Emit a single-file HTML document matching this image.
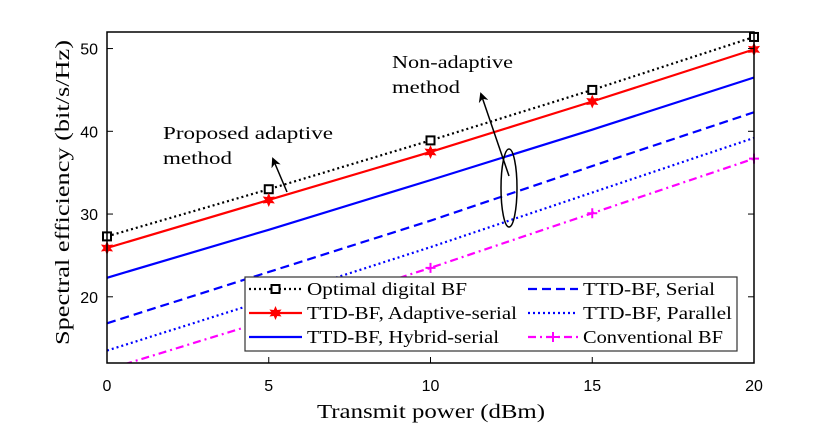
<!DOCTYPE html>
<html><head><meta charset="utf-8"><style>
html,body{margin:0;padding:0;background:#fff;}
svg{display:block;}
.t{font-family:"Liberation Sans",sans-serif;font-size:16px;fill:#000;}
.s{font-family:"Liberation Serif",serif;font-size:18px;fill:#000;}
</style></head><body>
<svg id="chart" width="830" height="429" viewBox="0 0 830 429" xmlns="http://www.w3.org/2000/svg">
<defs><clipPath id="pc"><rect x="107" y="32" width="647" height="331"/></clipPath>
<marker id="ah" markerWidth="10" markerHeight="10" refX="8" refY="5" orient="auto" markerUnits="userSpaceOnUse"><path d="M0,0 L10,5 L0,10 L3,5 Z" fill="#000"/></marker></defs>
<g id="grid"></g>
<g id="series" clip-path="url(#pc)"></g>
<g id="marks"></g>
<rect x="107" y="32" width="647" height="331" fill="none" stroke="#000" stroke-width="1.5"/>
<g id="axes"></g>
<text class="s" x="317" y="418" textLength="228" lengthAdjust="spacingAndGlyphs" style="font-size:20px">Transmit power (dBm)</text>
<text class="s" x="0" y="0" textLength="305" lengthAdjust="spacingAndGlyphs" style="font-size:20px" transform="translate(69 345) rotate(-90)">Spectral efficiency (bit/s/Hz)</text>
<g>
<text class="s" x="163" y="139" textLength="170" lengthAdjust="spacingAndGlyphs">Proposed adaptive</text>
<text class="s" x="163" y="164" textLength="69" lengthAdjust="spacingAndGlyphs">method</text>
<line x1="287" y1="192" x2="273" y2="159" stroke="#000" stroke-width="1.5" marker-end="url(#ah)"/>
</g>
<g>
<text class="s" x="392" y="68" textLength="121" lengthAdjust="spacingAndGlyphs">Non-adaptive</text>
<text class="s" x="392" y="93" textLength="68" lengthAdjust="spacingAndGlyphs">method</text>
<line x1="509" y1="176" x2="481" y2="94" stroke="#000" stroke-width="1.5" marker-end="url(#ah)"/>
<ellipse cx="509" cy="188" rx="8" ry="39" fill="none" stroke="#000" stroke-width="1.5"/>
</g>
<g id="legend"></g>
</svg>
<script>
const xValues=[0,5,10,15,20];
const optimal=[27.3,33.0,38.9,45.0,51.4];
const adaptive=[25.9,31.7,37.5,43.6,49.9];
const hybrid=[22.3,28.1,34.1,40.2,46.5];
const serial=[16.8,23.0,29.2,35.8,42.3];
const parallel=[13.5,19.7,26.0,32.6,39.2];
const conventional=[11.2,17.2,23.5,30.1,36.7];
const xTicks=[0,5,10,15,20];
const yTicks=[20,30,40,50];
const seriesNames=["Optimal digital BF","TTD-BF, Adaptive-serial","TTD-BF, Hybrid-serial","TTD-BF, Serial","TTD-BF, Parallel","Conventional BF"];

const NS="http://www.w3.org/2000/svg";
const X=v=>107+v*(647/20);
const Y=v=>363-(v-12)*(331/40);
function el(tag,attrs,parent){const e=document.createElementNS(NS,tag);for(const k in attrs)e.setAttribute(k,attrs[k]);parent.appendChild(e);return e;}
const axes=document.getElementById('axes');
xTicks.forEach(t=>{
  const l=el('line',{x1:X(t),x2:X(t),y1:363,y2:357,stroke:'#000','stroke-width':1},axes);
  
  
  const tx=el('text',{x:X(t),y:391,'text-anchor':'middle',class:'t'},axes);
  tx.textContent=t;
  
  
});
yTicks.forEach(t=>{
  const l=el('line',{x1:107,x2:113,y1:Y(t),y2:Y(t),stroke:'#000','stroke-width':1},axes);
  
  
  const l2=el('line',{x1:754,x2:748,y1:Y(t),y2:Y(t),stroke:'#000','stroke-width':1},axes);
  
  
  const tx=el('text',{x:98,y:Y(t)+6,'text-anchor':'end',class:'t'},axes);
  tx.textContent=t;
  
  
});
const styles=[
 {data:optimal,color:'#000',dash:'2,3',w:2.2,mk:'sq'},
 {data:adaptive,color:'#ff0000',dash:'',w:2.2,mk:'star'},
 {data:hybrid,color:'#0000ff',dash:'',w:2.2,mk:null},
 {data:serial,color:'#0000ff',dash:'9,5',w:2.2,mk:null},
 {data:parallel,color:'#0000ff',dash:'2,3',w:2.2,mk:null},
 {data:conventional,color:'#ff00ff',dash:'8,4,2,4',w:2.2,mk:'plus'}
];
function marker(type,x,y,color,parent){
  if(type==='sq'){const r=el('rect',{x:x-4,y:y-4,width:8,height:8,fill:'#fff',stroke:color,'stroke-width':2},parent);}
  else if(type==='star'){let p='';for(let i=0;i<12;i++){const a=i*Math.PI/6-Math.PI/2;const r=i%2?3.5:7;p+=(i?'L':'M')+(x+r*Math.cos(a))+','+(y+r*Math.sin(a));}const s=el('path',{d:p+'Z',fill:color},parent);}
  else if(type==='plus'){const g=el('path',{d:`M${x-5},${y}H${x+5}M${x},${y-5}V${y+5}`,stroke:color,'stroke-width':2},parent);}
}
const sg=document.getElementById('series'),mg=document.getElementById('marks');
styles.forEach((s,i)=>{
  const d=s.data.map((v,j)=>(j?'L':'M')+X(xValues[j])+','+Y(v)).join('');
  const p=el('path',{d:d,fill:'none',stroke:s.color,'stroke-width':s.w,'stroke-dasharray':s.dash},sg);
  
  
  if(s.mk)s.data.forEach((v,j)=>{ if(v>=12) marker(s.mk,X(xValues[j]),Y(v),s.color,mg);});
});
const lg=document.getElementById('legend');
const box=el('rect',{x:245,y:277,width:492,height:74,fill:'#fff',stroke:'#333','stroke-width':1.2},lg);


const order=[[0,0],[0,1],[0,2],[1,0],[1,1],[1,2]];
const textWidths=[160,210,192,132,149,140];
styles.forEach((s,i)=>{
  const [c,r]=order[i];
  const x0=c?528:249,x1=c?578:302,ty=289+r*24;
  const g=el('g',{},lg);
  
  
  el('line',{x1:x0,x2:x1,y1:ty,y2:ty,stroke:s.color,'stroke-width':2.2,'stroke-dasharray':s.dash},g);
  if(s.mk)marker(s.mk,(x0+x1)/2,ty,s.color,g);
  const t=el('text',{x:x1+5,y:ty+6,class:'s',textLength:textWidths[i],lengthAdjust:'spacingAndGlyphs'},g);
  t.textContent=seriesNames[i];
});
</script>
</body></html>
